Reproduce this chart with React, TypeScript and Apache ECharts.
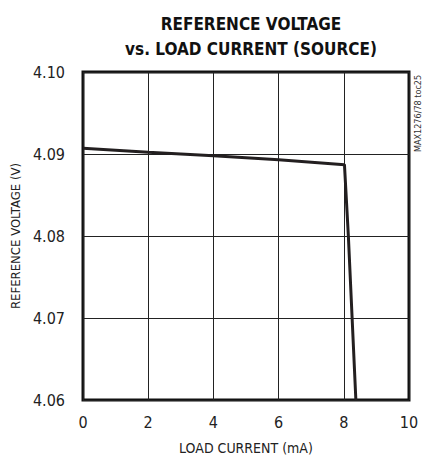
import React, { useEffect, useRef } from "react";
import * as echarts from "echarts";

const xTicks = [0, 2, 4, 6, 8, 10];
const yTicks = [4.06, 4.07, 4.08, 4.09, 4.1];
const loadCurrent = [0, 2, 4, 6, 8.02, 8.14, 8.37];
const refVoltage = [4.0907, 4.0902, 4.0898, 4.0893, 4.0887, 4.08, 4.06];

const FONT = "'DejaVu Sans Condensed', 'Liberation Sans', sans-serif";

export default function App() {
  const ref = useRef<HTMLDivElement>(null);
  useEffect(() => {
    document.body.style.margin = "0";
    const chart = echarts.init(ref.current!, null, { renderer: "svg" });
    const data = loadCurrent.map((x, i) => [x, refVoltage[i]]);
    chart.setOption({
      animation: false,
      backgroundColor: "#fff",
      textStyle: { fontFamily: FONT },
      title: {
        text: "REFERENCE VOLTAGE\nvs. LOAD CURRENT (SOURCE)",
        left: 246,
        top: 6,
        textAlign: "center",
        textStyle: { fontFamily: FONT, fontWeight: "bold", fontSize: 17, lineHeight: 25, color: "#111" },
      },
      graphic: [
        {
          type: "text",
          x: 418,
          y: 152,
          rotation: Math.PI / 2,
          style: { text: "MAX1276/78 toc25", fontSize: 9, fontFamily: FONT, fill: "#333", align: "left", verticalAlign: "middle" },
        },
      ],
      grid: { left: 83, right: 13, top: 72, bottom: 62, show: true, borderColor: "#111", borderWidth: 3, outerBoundsMode: "none", containLabel: false },
      xAxis: {
        type: "value",
        min: xTicks[0],
        max: xTicks[xTicks.length - 1],
        interval: 2,
        name: "LOAD CURRENT (mA)",
        nameLocation: "middle",
        nameGap: 41,
        nameTextStyle: { fontSize: 14, color: "#222", fontFamily: FONT },
        axisLine: { show: false },
        axisTick: { show: false },
        axisLabel: { fontSize: 16, color: "#222", margin: 14, fontFamily: FONT },
        splitLine: { show: true, lineStyle: { color: "#222", width: 1 } },
      },
      yAxis: {
        type: "value",
        min: yTicks[0],
        max: yTicks[yTicks.length - 1],
        interval: 0.01,
        name: "REFERENCE VOLTAGE (V)",
        nameLocation: "middle",
        nameGap: 58,
        nameTextStyle: { fontSize: 13, color: "#222", fontFamily: FONT },
        axisLine: { show: false },
        axisTick: { show: false },
        axisLabel: { fontSize: 16, color: "#222", margin: 18, fontFamily: FONT, formatter: (v: number) => v.toFixed(2) },
        splitLine: { show: true, lineStyle: { color: "#222", width: 1 } },
      },
      series: [
        {
          type: "line",
          data,
          showSymbol: false,
          lineStyle: { color: "#231f20", width: 3 },
        },
      ],
    });
    return () => chart.dispose();
  }, []);
  return <div ref={ref} style={{ width: 422, height: 462 }} />;
}
